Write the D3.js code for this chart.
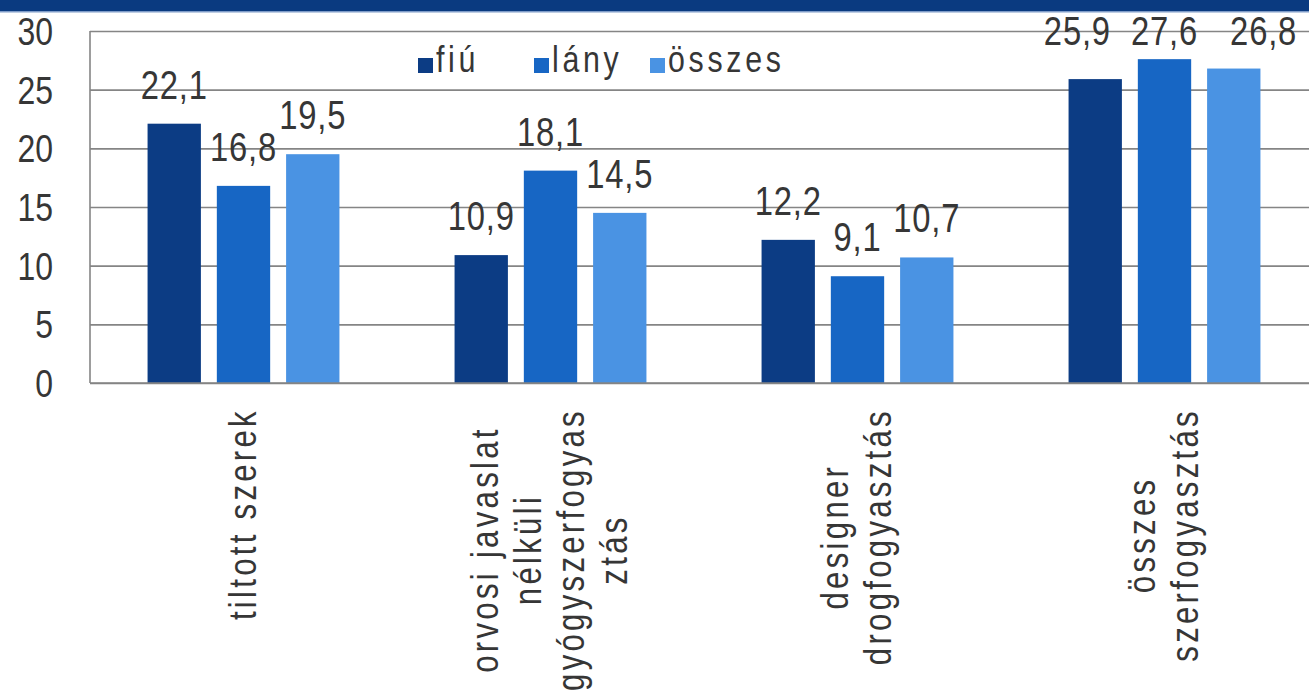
<!DOCTYPE html>
<html>
<head>
<meta charset="utf-8">
<script src="https://cdn.jsdelivr.net/npm/d3@7"></script>
<style>
  html, body { margin: 0; padding: 0; background: #ffffff; }
  svg { display: block; }
  text { font-family: "Liberation Sans", Arial, sans-serif; fill: #363636; }
</style>
</head>
<body>
<svg id="chart" width="1309" height="700"></svg>
<script>
// ---- data ----
const categories = ["tiltott szerek", "orvosi javaslat\nnélküli\ngyógyszerfogyas\nztás", "designer\ndrogfogyasztás", "összes\nszerfogyasztás"];
const seriesNames = ["fiú", "lány", "összes"];
const fiu = [22.1, 10.9, 12.2, 25.9];
const lany = [16.8, 18.1, 9.1, 27.6];
const osszes = [19.5, 14.5, 10.7, 26.8];
const yTicks = [0, 5, 10, 15, 20, 25, 30];

// ---- layout / style ----
const W = 1309, H = 700;
const plot = { left: 90, right: 1318, top: 31, bottom: 383 };
const colors = ["#0c3c84", "#1766c4", "#4a93e3"];
const seriesValues = [fiu, lany, osszes];
const SX = 0.82; // horizontal condensing of the text face

const svg = d3.select("#chart");
const loc = d3.formatLocale({ decimal: ",", thousands: " ", grouping: [3], currency: ["", ""] });
const fmt = loc.format(".1f");

function ctext(parent, str, size, spacing, anchor) {
  const g = parent.append("g");
  const t = g.append("text").attr("font-size", size).attr("letter-spacing", spacing)
    .attr("text-anchor", anchor).text(str);
  return { g, t, len: () => t.node().getComputedTextLength() * SX,
    place: (x, yy, rot) => g.attr("transform", `translate(${x},${yy})` + (rot ? ` rotate(${rot})` : "") + ` scale(${SX},1)`) };
}

// top band
svg.append("rect").attr("x", 0).attr("y", 0).attr("width", W).attr("height", 11).attr("fill", "#0a3a80");
svg.append("rect").attr("x", 0).attr("y", 11).attr("width", W).attr("height", 1.5).attr("fill", "#7f9cc8");

const y = d3.scaleLinear().domain([0, 30]).range([plot.bottom, plot.top]);
const x0 = d3.scaleBand().domain(d3.range(categories.length)).range([plot.left, plot.right])
  .paddingInner(0.375).paddingOuter(0.1875);
const x1 = d3.scaleBand().domain(d3.range(seriesNames.length)).range([0, x0.bandwidth()])
  .paddingInner(0.23).paddingOuter(0);

// gridlines
const yAxis = d3.axisLeft(y).tickValues(yTicks).tickSize(-(plot.right - plot.left)).tickFormat("");
const gy = svg.append("g").attr("transform", `translate(${plot.left},0)`).call(yAxis);
gy.select(".domain").remove();
gy.selectAll(".tick line").attr("stroke", "#858585").attr("stroke-width", 1.6);
yTicks.forEach(v => {
  const c = ctext(svg, d3.format("d")(v), 39, 0, "end");
  c.t.attr("dy", "0.36em");
  c.place(plot.left - 37, y(v));
});
svg.append("line").attr("x1", plot.left).attr("x2", plot.left).attr("y1", plot.top).attr("y2", plot.bottom)
  .attr("stroke", "#858585").attr("stroke-width", 1.6);

// bars
const groups = svg.append("g").selectAll("g").data(categories).join("g")
  .attr("transform", (d, i) => `translate(${x0(i)},0)`);
groups.selectAll("rect").data((d, i) => seriesValues.map((s, k) => ({ k, v: s[i] }))).join("rect")
  .attr("x", d => x1(d.k)).attr("width", x1.bandwidth())
  .attr("y", d => y(d.v)).attr("height", d => y(0) - y(d.v))
  .attr("fill", d => colors[d.k]);

// value labels
const labelFont = 40, labelGap = 25, topLimit = 25;
categories.forEach((c, i) => {
  const vals = seriesValues.map(s => s[i]);
  const pinned = d3.max(vals) > topLimit;
  const texts = vals.map(v => ctext(svg, fmt(v), labelFont, 1, "middle"));
  if (!pinned) {
    texts.forEach((t, k) => t.place(x0(i) + x1(k) + x1.bandwidth() / 2, y(vals[k]) - labelGap));
  } else {
    // labels that would cross the frame are set in one row along the top, side by side
    const widths = texts.map(t => t.len());
    const mid = x0(i) + x1(1) + x1.bandwidth() / 2;
    const cx = [mid - widths[1] / 2 - 20 - widths[0] / 2, mid, mid + widths[1] / 2 + 32 + widths[2] / 2];
    texts.forEach((t, k) => t.place(cx[k], y(30) + 14));
  }
});

svg.append("line").attr("x1", plot.left).attr("x2", plot.right).attr("y1", plot.bottom).attr("y2", plot.bottom)
  .attr("stroke", "#858585").attr("stroke-width", 1.6);

// category labels (rotated, reading bottom-to-top)
const catFont = 38, lineH = 43, labelTop = 408;
categories.forEach((c, i) => {
  const lines = c.split("\n");
  const cx = x0(i) + x0.bandwidth() / 2;
  const ts = lines.map(ln => ctext(svg, ln, catFont, 4, "middle"));
  const maxLen = d3.max(ts, t => t.len());
  const cy = labelTop + maxLen / 2;
  ts.forEach((t, j) => {
    const off = (j - (lines.length - 1) / 2) * lineH + 12;
    t.place(cx + off, cy, -90);
  });
});

// legend
const legend = svg.append("g");
const legX = 418, legStep = 116, legY = 58;
seriesNames.forEach((n, k) => {
  const gx = legX + k * legStep;
  legend.append("rect").attr("x", gx).attr("y", legY).attr("width", 15).attr("height", 15).attr("fill", colors[k]);
  ctext(legend, n, 37, 4.5, "start").place(gx + 18, legY + 14);
});
</script>
</body>
</html>
